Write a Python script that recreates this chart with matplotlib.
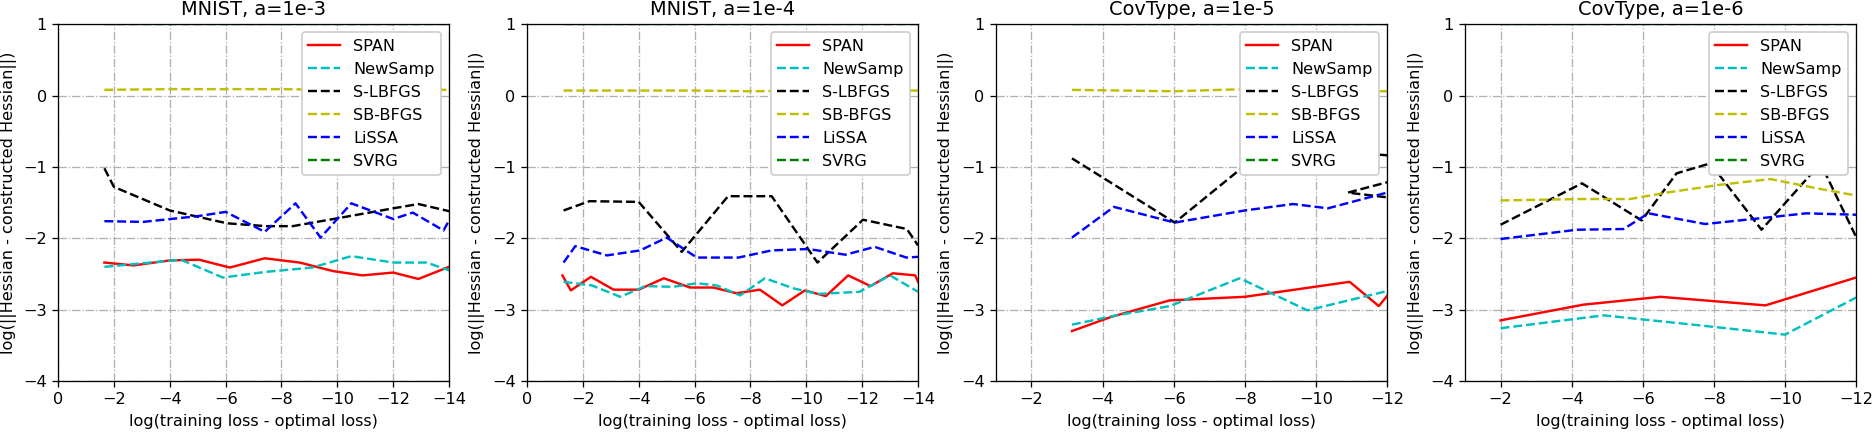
import numpy as np
import matplotlib
matplotlib.use('Agg')
import matplotlib.pyplot as plt

# panel titles, x limits and x ticks
titles = ['MNIST, a=1e-3', 'MNIST, a=1e-4', 'CovType, a=1e-5', 'CovType, a=1e-6']
xlims = [(0, -14), (0, -14), (-1, -12), (-1, -12)]
xticks = [np.arange(0, -15, -2), np.arange(0, -15, -2),
          np.arange(-2, -13, -2), np.arange(-2, -13, -2)]
yticks = [-4, -3, -2, -1, 0, 1]

names = ['SPAN', 'NewSamp', 'S-LBFGS', 'SB-BFGS', 'LiSSA', 'SVRG']
colors = ['r', 'c', 'k', 'y', 'b', 'g']
styles = ['-', '--', '--', '--', '--', '--']

# ---- MNIST, a=1e-3
m3_span_x = [-1.66, -2.7, -4.0, -5.05, -6.15, -7.4, -8.65, -9.85, -10.9, -12.0, -12.9, -14.0]
m3_span_y = [-2.34, -2.38, -2.31, -2.30, -2.41, -2.28, -2.34, -2.46, -2.52, -2.48, -2.57, -2.40]
m3_news_x = [-1.66, -4.4, -5.9, -7.45, -9.1, -10.5, -12.0, -13.2, -14.0]
m3_news_y = [-2.40, -2.30, -2.55, -2.47, -2.41, -2.25, -2.34, -2.34, -2.45]
m3_lbfgs_x = [-1.66, -2.0, -4.0, -6.05, -7.45, -8.4, -10.0, -12.0, -12.9, -14.0]
m3_lbfgs_y = [-1.02, -1.28, -1.61, -1.79, -1.83, -1.83, -1.72, -1.58, -1.52, -1.62]
m3_bfgs_x = [-1.66, -4.0, -6.0, -8.0, -10.0, -12.0, -14.0]
m3_bfgs_y = [0.08, 0.09, 0.09, 0.09, 0.08, 0.09, 0.08]
m3_lissa_x = [-1.66, -3.05, -5.0, -6.0, -7.4, -8.5, -9.4, -10.5, -12.0, -12.7, -13.8, -14.0]
m3_lissa_y = [-1.76, -1.77, -1.69, -1.63, -1.91, -1.51, -1.99, -1.51, -1.73, -1.64, -1.89, -1.75]
m3_svrg_x = [-1.66, -14.0]
m3_svrg_y = [1.0, 1.0]

# ---- MNIST, a=1e-4
m4_span_x = [-1.27, -1.57, -2.29, -3.1, -4.0, -4.9, -5.84, -6.67, -7.5, -8.34, -9.14, -9.95,
             -10.7, -11.5, -12.3, -13.1, -13.9, -14.0]
m4_span_y = [-2.52, -2.73, -2.54, -2.72, -2.72, -2.56, -2.69, -2.69, -2.77, -2.72, -2.94, -2.73,
             -2.81, -2.52, -2.67, -2.49, -2.52, -2.61]
m4_news_x = [-1.31, -2.32, -3.34, -4.23, -5.24, -6.08, -6.79, -7.63, -8.52, -9.53, -10.4, -11.9, -13.0, -14.0]
m4_news_y = [-2.61, -2.66, -2.82, -2.67, -2.68, -2.63, -2.66, -2.80, -2.56, -2.70, -2.78, -2.75, -2.52, -2.75]
m4_lbfgs_x = [-1.31, -2.24, -4.0, -5.54, -7.2, -8.76, -10.4, -12.03, -13.6, -14.0]
m4_lbfgs_y = [-1.61, -1.48, -1.49, -2.19, -1.41, -1.41, -2.34, -1.74, -1.87, -2.10]
m4_bfgs_x = [-1.31, -4.0, -6.0, -8.0, -10.0, -12.0, -14.0]
m4_bfgs_y = [0.07, 0.07, 0.07, 0.06, 0.07, 0.07, 0.07]
m4_lissa_x = [-1.31, -1.73, -2.86, -4.05, -5.0, -6.08, -7.57, -8.76, -10.07, -11.4, -12.45, -13.58, -14.0]
m4_lissa_y = [-2.34, -2.11, -2.24, -2.17, -1.99, -2.27, -2.27, -2.17, -2.15, -2.23, -2.12, -2.27, -2.26]
m4_svrg_x = [-1.31, -14.0]
m4_svrg_y = [1.0, 1.0]

# ---- CovType, a=1e-5
c5_span_x = [-3.14, -4.25, -5.89, -8.0, -10.95, -11.77, -12.0]
c5_span_y = [-3.30, -3.10, -2.87, -2.82, -2.61, -2.95, -2.81]
c5_news_x = [-3.14, -4.39, -5.89, -7.86, -9.76, -12.0]
c5_news_y = [-3.21, -3.08, -2.95, -2.56, -3.01, -2.74]
c5_lbfgs_x = [-3.14, -6.03, -8.2, -10.0, -11.6, -12.3, -12.4, -10.9, -12.5]
c5_lbfgs_y = [-0.88, -1.78, -0.9, -0.5, -0.82, -0.85, -1.45, -1.36, -1.15]
c5_bfgs_x = [-3.14, -6.0, -8.0, -10.0, -12.0]
c5_bfgs_y = [0.08, 0.06, 0.09, 0.07, 0.06]
c5_lissa_x = [-3.14, -4.32, -6.03, -8.0, -9.36, -10.34, -12.0]
c5_lissa_y = [-1.99, -1.56, -1.78, -1.61, -1.52, -1.58, -1.36]
c5_svrg_x = [-3.14, -12.0]
c5_svrg_y = [1.0, 1.0]

# ---- CovType, a=1e-6
c6_span_x = [-2.0, -4.33, -6.5, -9.45, -12.0]
c6_span_y = [-3.15, -2.93, -2.82, -2.94, -2.55]
c6_news_x = [-2.0, -4.9, -7.6, -10.0, -12.0]
c6_news_y = [-3.26, -3.08, -3.22, -3.35, -2.83]
c6_lbfgs_x = [-2.0, -4.29, -5.97, -6.95, -7.9, -9.34, -11.0, -12.0]
c6_lbfgs_y = [-1.81, -1.23, -1.75, -1.09, -0.95, -1.88, -0.95, -1.98]
c6_bfgs_x = [-2.0, -4.24, -5.64, -6.67, -8.17, -9.6, -10.9, -12.0]
c6_bfgs_y = [-1.47, -1.45, -1.45, -1.36, -1.25, -1.17, -1.30, -1.40]
c6_lissa_x = [-2.0, -4.15, -5.46, -6.16, -7.75, -9.48, -10.6, -12.0]
c6_lissa_y = [-2.01, -1.88, -1.87, -1.65, -1.80, -1.71, -1.65, -1.67]
c6_svrg_x = [-2.0, -12.0]
c6_svrg_y = [1.0, 1.0]

panels = [
    [(m3_span_x, m3_span_y), (m3_news_x, m3_news_y), (m3_lbfgs_x, m3_lbfgs_y),
     (m3_bfgs_x, m3_bfgs_y), (m3_lissa_x, m3_lissa_y), (m3_svrg_x, m3_svrg_y)],
    [(m4_span_x, m4_span_y), (m4_news_x, m4_news_y), (m4_lbfgs_x, m4_lbfgs_y),
     (m4_bfgs_x, m4_bfgs_y), (m4_lissa_x, m4_lissa_y), (m4_svrg_x, m4_svrg_y)],
    [(c5_span_x, c5_span_y), (c5_news_x, c5_news_y), (c5_lbfgs_x, c5_lbfgs_y),
     (c5_bfgs_x, c5_bfgs_y), (c5_lissa_x, c5_lissa_y), (c5_svrg_x, c5_svrg_y)],
    [(c6_span_x, c6_span_y), (c6_news_x, c6_news_y), (c6_lbfgs_x, c6_lbfgs_y),
     (c6_bfgs_x, c6_bfgs_y), (c6_lissa_x, c6_lissa_y), (c6_svrg_x, c6_svrg_y)],
]

DPI = 116
fig = plt.figure(figsize=(1872 / DPI, 432 / DPI), dpi=DPI)
lefts = [0.031, 0.2815, 0.532, 0.7826]

for k in range(4):
    ax = fig.add_axes([lefts[k], 0.118, 0.2089, 0.826])
    for (x, y), nm, c, ls in zip(panels[k], names, colors, styles):
        ax.plot(x, y, color=c, linestyle=ls, linewidth=1.5, label=nm)
    ax.set_xlim(*xlims[k])
    ax.set_ylim(-4, 1)
    ax.set_xticks(xticks[k])
    ax.set_yticks(yticks)
    ax.grid(True, linestyle='-.', color='#b0b0b0', linewidth=0.8)
    ax.set_title(titles[k])
    ax.set_xlabel('log(training loss - optimal loss)')
    ax.set_ylabel('log(||Hessian - constructed Hessian||)')
    ax.legend(loc='upper right', framealpha=1)

fig.savefig('out.png', dpi=DPI)
